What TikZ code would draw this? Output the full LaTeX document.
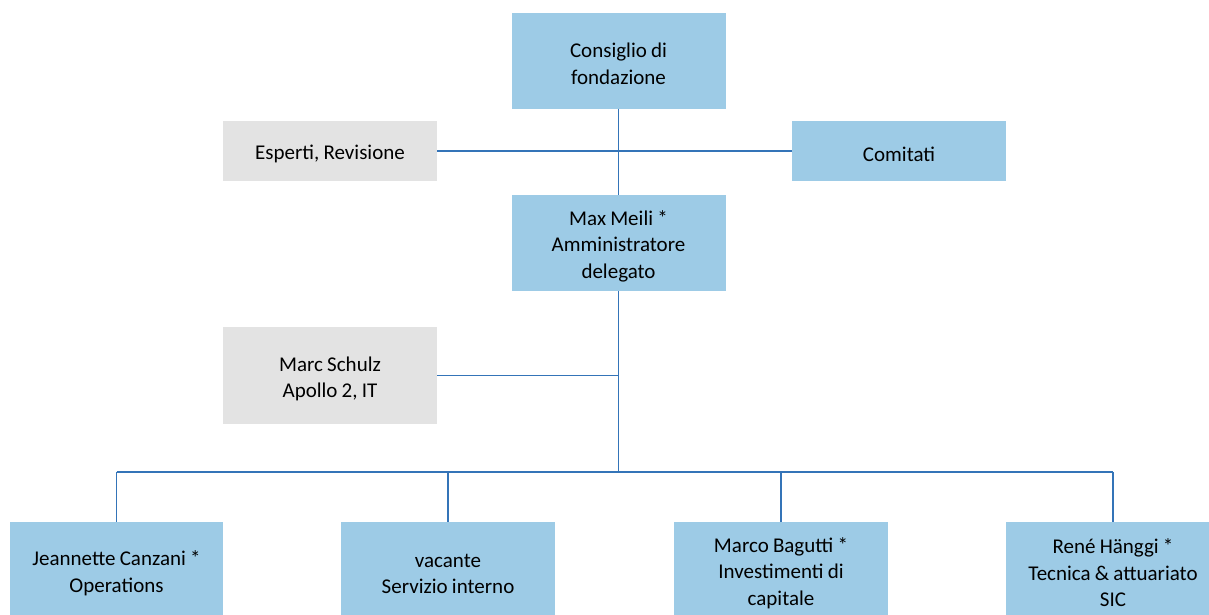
\documentclass[tikz,border=0pt]{standalone}
\usepackage{fontspec}
\setmainfont{Carlito}
\usetikzlibrary{positioning}

\definecolor{BoxBlue}{RGB}{157,203,230}
\definecolor{BoxGray}{RGB}{227,227,227}
\definecolor{LinkBlue}{RGB}{52,116,184}

\begin{document}
\begin{tikzpicture}[
    % Environment Config
    x=1pt, y=-1pt,
    font=\fontsize{21}{26.5}\selectfont,
    Unit/.style={% Style for the blue boxes
      rectangle,
      fill=BoxBlue,
      draw=none,
      align=center,
      text width=205pt,
      minimum width=214pt,
      minimum height=96pt,
      inner sep=0pt,
      execute at begin node={\spaceskip=0.2em\relax\rule{0pt}{21pt}}% tighter words, text a bit lower
    },
    Staff/.style={% Style for the gray boxes
      Unit,
      fill=BoxGray
    },
    Link/.style={% Style for the connectors
      draw=LinkBlue,
      line width=1.8pt
    }
  ]

  \useasboundingbox (0,0) rectangle (1209,614);
  \clip (0,0) rectangle (1209,614);

  %===Top level===
  \node[Unit] (Board) at (618.5,60.5) {Consiglio di\\fondazione};
  \node[Staff, minimum height=60pt] (Experts) at (330,151) {Esperti, Revisione};
  \node[Unit, minimum height=60pt] (Committees) at (899,151) {Comitati};

  %===Management===
  \node[Unit] (CEO) at (618.5,243) {Max Meili *\\Amministratore\\delegato};
  \node[Staff, minimum height=97pt] (IT) at (330,375.5) {Marc Schulz\\Apollo 2, IT};

  %===Departments===
  \node[Unit, minimum width=213pt] (Ops) at (116.5,570) {Jeannette Canzani *\\Operations};
  \node[Unit] (Service) at (448,570) {vacante\\Servizio interno};
  \node[Unit] (Invest) at (781,570) {Marco Bagutti *\\Investimenti di\\capitale};
  \node[Unit] (Tech) at (1113,570) {René Hänggi *\\Tecnica \& attuariato\\SIC};

  % Bus points
  \coordinate (Spine) at (CEO.south |- 0,472);
  \coordinate (ITJoin) at (CEO.south |- IT.east);

  % Draw the connectors
  \draw[Link]
  (Board.south)
      -- (CEO.north)
  (Experts.east)
      -- (Committees.west)
  (CEO.south)
      -- (Spine)
  (IT.east)
      -- (ITJoin)
  (Ops.north |- Spine)
      -- (Tech.north |- Spine);

  %===Drops to the departments===
  \foreach \Dept in {Ops,Service,Invest,Tech}{
    \draw[Link] (\Dept.north |- Spine) -- (\Dept.north);
  }

\end{tikzpicture}
\end{document}
